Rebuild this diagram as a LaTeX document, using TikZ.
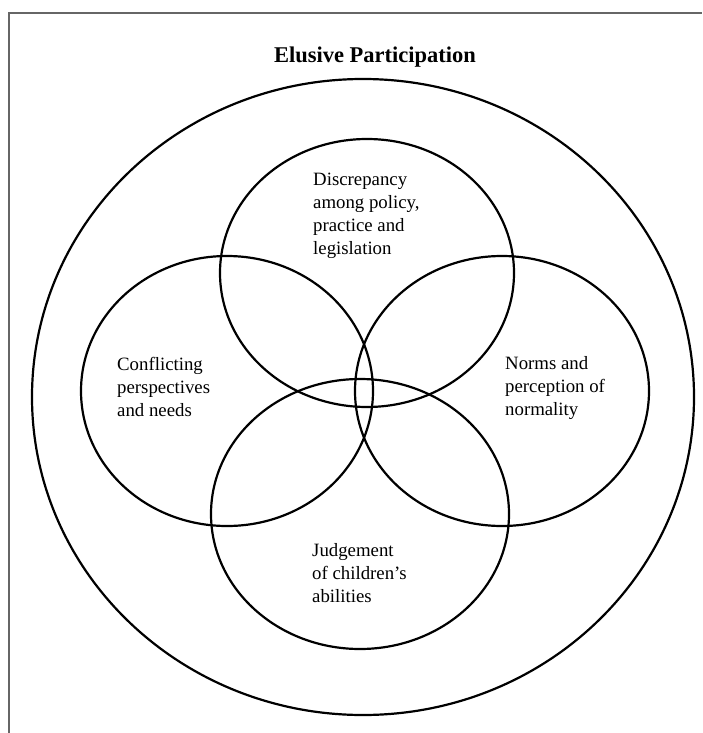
\documentclass[tikz,border=0pt]{standalone}
\usepackage{fontspec}
\setmainfont{Liberation Serif}
\begin{document}
\begin{tikzpicture}[x=1pt,y=-1pt,
  ring/.style={line width=2.2pt},
  lbl/.style={align=left,inner sep=0pt,anchor=west,font=\fontsize{18.8}{23}\selectfont}]
 \useasboundingbox (0,0) rectangle (702,733);
 \draw[line width=2pt,black!60] (9,733)--(9,13)--(702,13); %frame
 \node[inner sep=0pt,font=\bfseries\fontsize{22.5}{27}\selectfont] (title) at (375,57) {Elusive Participation}; %title
 \draw[ring] (363,397) ellipse [x radius=331,y radius=318]; %outer ring
 \draw[ring] (367,273) ellipse [x radius=147,y radius=134]; %top
 \draw[ring] (227,391) ellipse [x radius=146,y radius=135]; %left
 \draw[ring] (502,391) ellipse [x radius=147,y radius=135]; %right
 \draw[ring] (360,514) ellipse [x radius=149,y radius=135]; %bottom
 \node[lbl] (discr) at (313,216) {Discrepancy\\among policy,\\practice and\\legislation};
 \node[lbl] (confl) at (117,387) {Conflicting\\perspectives\\and needs};
 \node[lbl] (norms) at (505,388) {Norms and\\perception of\\normality};
 \node[lbl] (judge) at (312,573) {Judgement\\of children’s\\abilities};
\end{tikzpicture}
\end{document}
